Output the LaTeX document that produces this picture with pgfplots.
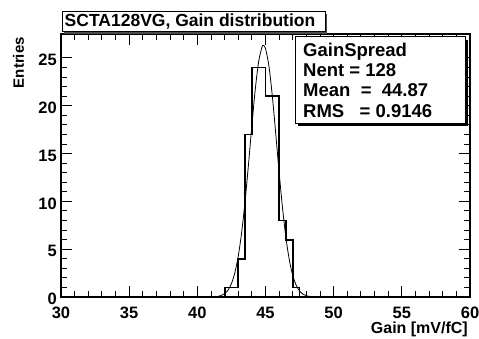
\documentclass[border=0pt]{standalone}
\usepackage{pgfplots}
\pgfplotsset{compat=1.18}
\usepackage{fontspec}
\setmainfont{Liberation Sans}
\begin{document}
\begin{tikzpicture}[x=1pt,y=1pt]
\useasboundingbox (0,0) rectangle (479,338);
\begin{axis}[
  at={(61pt,41pt)}, anchor=south west,
  scale only axis, width=409pt, height=263pt,
  xmin=30, xmax=60, ymin=0, ymax=27.5,
  axis line style={line width=1.6pt},
  xtick={30,35,...,60}, ytick={0,5,...,25},
  minor x tick num=4, minor y tick num=4,
  tick align=inside,
  major tick length=11pt, minor tick length=6pt,
  every tick/.style={black, line width=0.9pt},
  /pgf/number format/assume math mode=true,
  tick label style={font=\fontsize{16.5}{19}\selectfont\bfseries, inner sep=0pt},
  xticklabel style={anchor=north, yshift=-10pt},
  yticklabel style={anchor=east, xshift=-4pt, yshift=-2pt},
  clip=true,
]
\addplot[const plot, black, line width=1.8pt] coordinates {
  (30,0) (42,1) (42.5,1) (43,4) (43.5,17) (44,24) (44.5,24) (45,21) (45.5,21)
  (46,8) (46.5,6) (47,1) (47.5,0) (60,0)
};
\addplot[black, line width=0.8pt, smooth] coordinates {
  (41.5,0.068) (41.75,0.159) (42.0,0.351) (42.25,0.724) (42.5,1.397) (42.75,2.524)
  (43.0,4.266) (43.25,6.749) (43.5,9.99) (43.75,13.83) (44.0,17.92) (44.25,21.72)
  (44.5,24.64) (44.75,26.16) (44.85,26.3) (45.0,25.99) (45.25,24.16) (45.5,21.01)
  (45.75,17.10) (46.0,13.02) (46.25,9.28) (46.5,6.19) (46.75,3.86) (47.0,2.25)
  (47.25,1.23) (47.5,0.63) (47.75,0.30) (48.0,0.135) (48.25,0.057)
};
\end{axis}
% title box
\fill[black!70] (64,304) rectangle (327,324);
\draw[fill=white, line width=1pt] (62,306) rectangle (325,326);
\node[anchor=center, inner sep=0pt, font=\fontsize{17.5}{21}\selectfont\bfseries] at (190,316) {SCTA128VG, Gain distribution};
% stats box
\fill[black] (298,212) rectangle (468,298);
\draw[fill=white, line width=1pt] (295,215) rectangle (465,301);
\begin{scope}[every node/.style={anchor=base west, inner sep=0pt, font=\fontsize{18.5}{21}\selectfont\bfseries}]
\node at (303,281) {GainSpread};
\node at (303,261) {Nent = 128};
\node at (303,241) {Mean\ \ =\ \ 44.87};
\node at (303,221) {RMS\ \ \ = 0.9146};
\end{scope}
% axis labels
\node[rotate=90, anchor=east, inner sep=0pt, font=\fontsize{15}{18}\selectfont\bfseries] at (18.5,301) {Entries};
\node[anchor=east, inner sep=0pt, font=\fontsize{16}{19}\selectfont\bfseries] at (468,9) {Gain [mV/fC]};
\end{tikzpicture}
\end{document}
